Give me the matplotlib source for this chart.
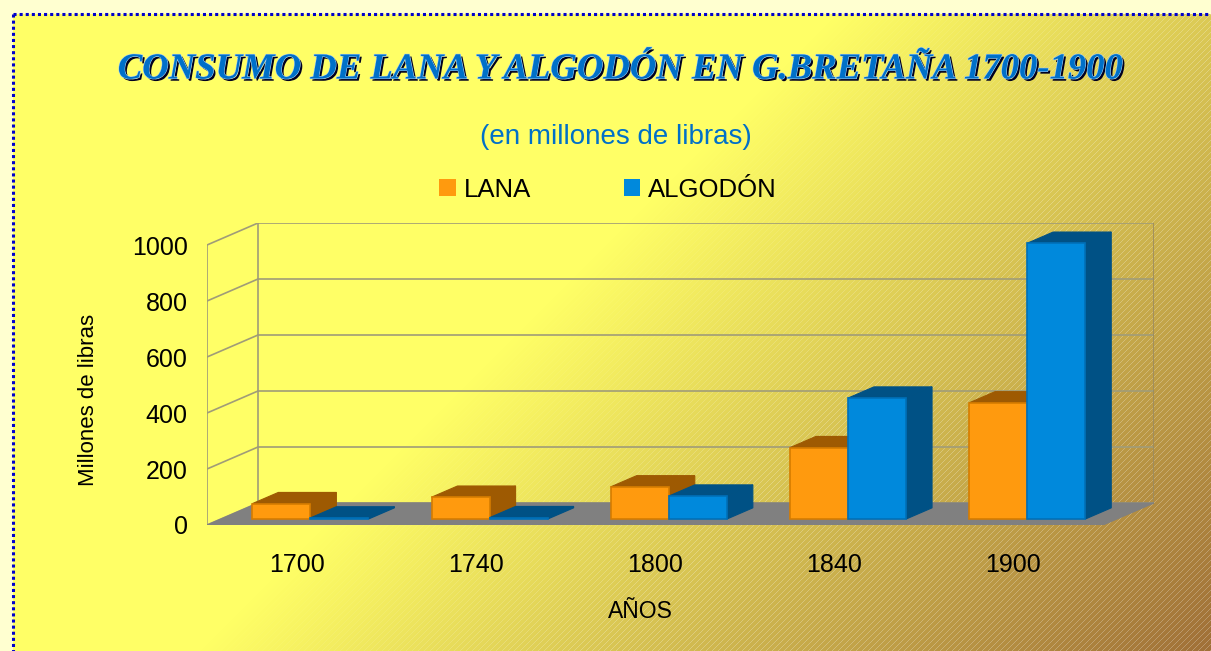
import matplotlib
matplotlib.use('Agg')
import matplotlib.pyplot as plt
import matplotlib.patheffects as pe
from matplotlib.patches import Polygon, Patch
import numpy as np

plt.rcParams['font.family'] = ['Liberation Sans', 'DejaVu Sans']

# datos (millones de libras)
years = ['1700', '1740', '1800', '1840', '1900']
lana = [55, 78, 115, 255, 415]
algodon = [4, 5, 82, 432, 985]
yticks = [0, 200, 400, 600, 800, 1000]

W, H = 1211, 651
fig = plt.figure(figsize=(W / 100, H / 100), dpi=100)

# fondo degradado amarillo -> dorado con rayado diagonal
yy, xx = np.mgrid[0:H, 0:W]
frac = np.clip((xx + yy - 850) / 1010.0, 0, 1)[..., None]
yellow = np.array([255, 255, 102]) / 255.
brown = np.array([160, 112, 56]) / 255.
bg = yellow * (1 - frac) + brown * frac
hatch = ((xx + yy) % 6 == 0)[..., None]
a = 0.25 * np.clip(frac * 2.5, 0, 1)
bg = np.where(hatch, bg * (1 - a) + a, bg)
outside = ((xx < 13) | (yy < 14))[..., None]
bg = np.where(outside, np.array([255, 255, 208]) / 255., bg)

axbg = fig.add_axes([0, 0, 1, 1], zorder=-1)
axbg.imshow(bg, extent=(0, W, H, 0), aspect='auto', interpolation='nearest')
axbg.plot([13, W], [14, 14], color='#0000cc', lw=2.2, ls=(0, (1, 1)), dash_capstyle='butt')
axbg.plot([13, 13], [14, H], color='#0000cc', lw=2.2, ls=(0, (1, 1)), dash_capstyle='butt')
axbg.set_xlim(0, W)
axbg.set_ylim(H, 0)
axbg.axis('off')

# ejes "3D" falsos
DX = 0.2846   # desplazamiento de profundidad en categorias
DY = 78.6     # desplazamiento de profundidad en unidades de valor
d0, d1 = 0.27, 0.78
w = 0.324
n = len(years)

ax = fig.add_axes([207 / W, (H - 525) / H, 947 / W, 302 / H])
ax.patch.set_alpha(0)
ax.set_xlim(-0.5, n - 0.5 + DX)
ax.set_ylim(0, 1000 + DY)
for s in ax.spines.values():
    s.set_visible(False)

grid_c = '#a09c78'
# pared del fondo y pared lateral
for v in yticks:
    ax.plot([-0.5 + DX, n - 0.5 + DX], [v + DY, v + DY], color=grid_c, lw=1.2, zorder=1)
    ax.plot([-0.5, -0.5 + DX], [v, v + DY], color=grid_c, lw=1.2, zorder=1)
ax.plot([-0.5, -0.5], [0, 1000], color=grid_c, lw=1.2, zorder=1)
ax.plot([-0.5 + DX, -0.5 + DX], [DY, 1000 + DY], color=grid_c, lw=1.2, zorder=1)
ax.plot([n - 0.5 + DX, n - 0.5 + DX], [DY, 1000 + DY], color='#9a8a60', lw=1.2, zorder=1)

# suelo
floor = Polygon([(-0.5, 0), (n - 0.5, 0), (n - 0.5 + DX, DY), (-0.5 + DX, DY)],
                closed=True, facecolor='#808080', edgecolor='#808080', lw=0.8, zorder=2)
ax.add_patch(floor)


def draw_bar(x0, x1, v, front, dark, edge, z):
    ox0, oy0 = d0 * DX, d0 * DY
    ox1, oy1 = d1 * DX, d1 * DY
    side = [(x1 + ox0, oy0), (x1 + ox1, oy1), (x1 + ox1, v + oy1), (x1 + ox0, v + oy0)]
    top = [(x0 + ox0, v + oy0), (x1 + ox0, v + oy0), (x1 + ox1, v + oy1), (x0 + ox1, v + oy1)]
    face = [(x0 + ox0, oy0), (x1 + ox0, oy0), (x1 + ox0, v + oy0), (x0 + ox0, v + oy0)]
    ax.add_patch(Polygon(side, closed=True, facecolor=dark, edgecolor=dark, lw=0.8, zorder=z))
    ax.add_patch(Polygon(top, closed=True, facecolor=dark, edgecolor=dark, lw=0.8, zorder=z))
    ax.add_patch(Polygon(face, closed=True, facecolor=front, edgecolor=edge, lw=1.2, zorder=z))


for i in range(n):
    draw_bar(i - w, i, lana[i], '#ff9a0e', '#9e5a02', '#d67c00', 3 + 2 * i)
    draw_bar(i, i + w, algodon[i], '#0089dc', '#005185', '#0070b8', 4 + 2 * i)

ax.set_yticks(yticks)
ax.set_xticks(range(n))
ax.set_xticklabels(years)
ax.tick_params(axis='y', length=0, pad=14, labelsize=18)
ax.tick_params(axis='x', length=0, pad=20, labelsize=18)
ax.set_ylabel('Millones de libras', fontsize=16)
ax.yaxis.set_label_coords(-0.114, 0.414)
ax.set_xlabel('AÑOS', fontsize=16.5)
ax.xaxis.set_label_coords(0.458, -0.248)

# titulo y subtitulo
fig.text(620 / W, 1 - 69 / H, 'CONSUMO DE LANA Y ALGODÓN EN G.BRETAÑA 1700-1900',
         ha='center', va='center', fontsize=26.4, family='Liberation Serif',
         weight='bold', style='italic', color='#0070c8',
         path_effects=[pe.withSimplePatchShadow(offset=(1.6, -1.6), shadow_rgbFace='#000020', alpha=1),
                       pe.Stroke(linewidth=0.8, foreground='#a8d0f0'), pe.Normal()])
fig.text(616 / W, 1 - 137 / H, '(en millones de libras)', ha='center', va='center',
         fontsize=20, color='#0070c8')

handles = [Patch(facecolor='#ff9a0e', edgecolor='none', label='LANA'),
           Patch(facecolor='#0089dc', edgecolor='none', label='ALGODÓN')]
fig.legend(handles=handles, loc='center', bbox_to_anchor=(608 / W, 1 - 190 / H),
           ncol=2, frameon=False, fontsize=18.5, handlelength=0.64, handleheight=0.64,
           handletextpad=0.32, columnspacing=3.6)

fig.savefig('out.png', dpi=100)
